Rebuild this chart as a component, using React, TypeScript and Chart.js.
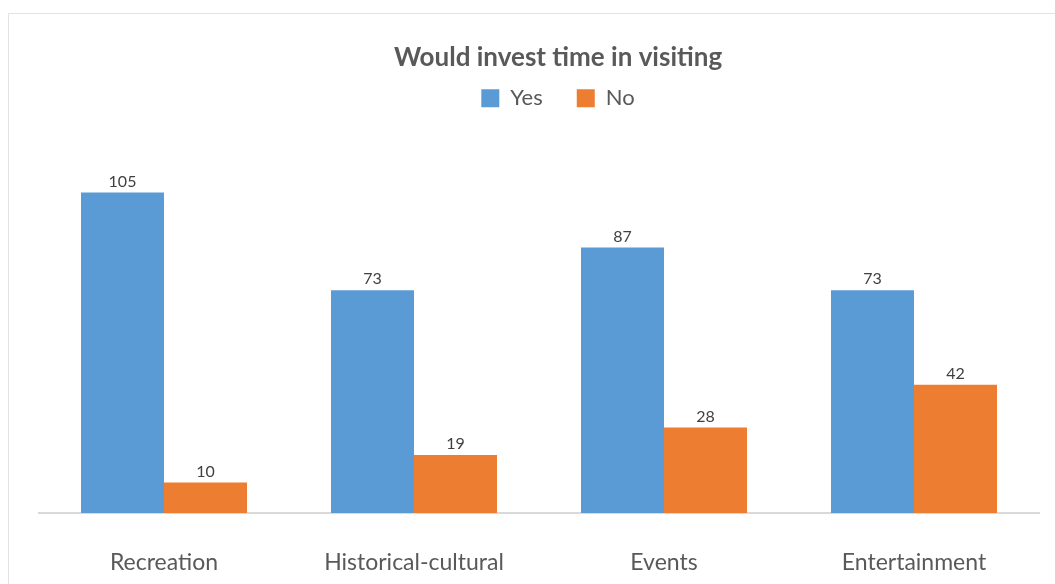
import React, { useEffect, useRef } from "react";
import { Chart, registerables } from "chart.js";

Chart.register(...registerables);

const categories = ["Recreation", "Historical-cultural", "Events", "Entertainment"];
const yesValues = [105, 73, 87, 73];
const noValues = [10, 19, 28, 42];
const seriesNames = ["Yes", "No"];
const titleText = "Would invest time in visiting";

const FONT = "Lato, 'Open Sans', sans-serif";

const valueLabels = {
  id: "valueLabels",
  afterDatasetsDraw(chart: any) {
    const ctx = chart.ctx;
    ctx.save();
    ctx.font = `16px ${FONT}`;
    ctx.fillStyle = "#404040";
    ctx.textAlign = "center";
    ctx.textBaseline = "bottom";
    chart.data.datasets.forEach((ds: any, i: number) => {
      const meta = chart.getDatasetMeta(i);
      meta.data.forEach((bar: any, j: number) => {
        ctx.fillText(String(ds.data[j]), bar.x, bar.y - 3);
      });
    });
    ctx.restore();
  },
};

export default function App() {
  const ref = useRef<HTMLCanvasElement>(null);
  useEffect(() => {
    if (!ref.current) return;
    const chart = new Chart(ref.current, {
      type: "bar",
      data: {
        labels: categories,
        datasets: [
          { label: seriesNames[0], data: yesValues, backgroundColor: "#5b9bd5", categoryPercentage: 0.664, barPercentage: 1 },
          { label: seriesNames[1], data: noValues, backgroundColor: "#ed7d31", categoryPercentage: 0.664, barPercentage: 1 },
        ],
      },
      options: {
        animation: false,
        responsive: false,
        layout: { padding: { left: 39, right: 16, top: 42, bottom: 0 } },
        plugins: {
          title: {
            display: true,
            text: titleText,
            color: "#595959",
            font: { family: FONT, size: 26, weight: "bold" },
            padding: { top: 0, bottom: -20 },
          },
          legend: {
            display: true,
            labels: {
              color: "#595959",
              font: { family: FONT, size: 22 },
              boxWidth: 18,
              boxHeight: 18,
              padding: 34,
            },
          },
          tooltip: { enabled: false },
        },
        scales: {
          x: {
            grid: { display: false },
            border: { display: true, color: "#d9d9d9", width: 2 },
            ticks: { color: "#595959", font: { family: FONT, size: 23 }, padding: 28, maxRotation: 0 },
            afterFit: (s: any) => {
              s.height = 71;
            },
          },
          y: {
            display: true,
            position: "right",
            min: 0,
            max: 129,
            grid: { display: false },
            border: { display: false },
            ticks: { display: false },
            afterFit: (s: any) => {
              s.width = 38;
            },
          },
        },
      },
      plugins: [valueLabels],
    });
    return () => chart.destroy();
  }, []);
  return (
    <div style={{ position: "fixed", left: 0, top: 0, width: 1055, height: 584, background: "#fff", overflow: "hidden" }}>
      <div
        style={{
          position: "absolute",
          left: 8,
          top: 13,
          width: 1100,
          height: 600,
          borderLeft: "1px solid #e3e3e3",
          borderTop: "1px solid #e3e3e3",
        }}
      />
      <canvas ref={ref} width={1093} height={584} style={{ position: "absolute", left: 0, top: 0 }} />
    </div>
  );
}
